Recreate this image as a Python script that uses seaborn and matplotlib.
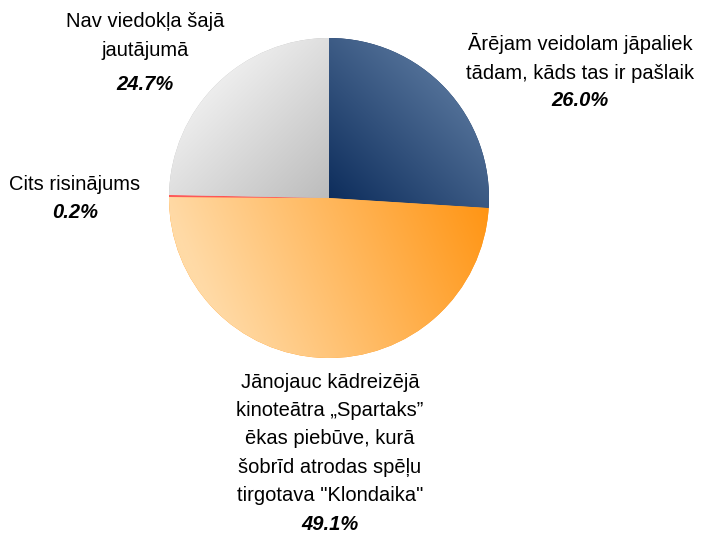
import numpy as np
import matplotlib
matplotlib.use("Agg")
import matplotlib.pyplot as plt
import seaborn as sns
from matplotlib.colors import to_rgb

# chart data
categories = [
    "Ārējam veidolam jāpaliek\ntādam, kāds tas ir pašlaik",
    "Jānojauc kādreizējā\nkinoteātra „Spartaks”\nēkas piebūve, kurā\nšobrīd atrodas spēļu\ntirgotava \"Klondaika\"",
    "Cits risinājums",
    "Nav viedokļa šajā\njautājumā",
]
shares = [26.0, 49.1, 0.2, 24.7]

# gradient per slice: (start point, start colour, end point, end colour)
gradients = [
    ((0.0, 0.0), "#0d2d5c", (0.75, 0.75), "#55739a"),
    ((1.0, 0.0), "#ff9412", (-0.7, -0.75), "#ffdaa6"),
    ((0.0, 0.0), "#ff4d4d", (-1.0, 0.0), "#ff5a5a"),
    ((0.0, 0.0), "#bcbcbc", (-0.75, 0.75), "#f0f0f0"),
]

# label positions in pixels (centre of text block)
label_px = [(580, 58), (330, 439), (75, 185), (145, 36)]
pct_px = [(580, 100), (330, 525), (75, 213), (145, 84)]

sns.set_theme(style="white")
plt.rcParams["font.family"] = ["Liberation Sans", "DejaVu Sans"]

W, H = 703, 536
fig = plt.figure(figsize=(W / 100, H / 100), dpi=100)
cx, cy, r = 329, 198, 160
ax = fig.add_axes([(cx - r) / W, (H - cy - r) / H, 2 * r / W, 2 * r / H])
ax.axis("off")

wedges, _ = ax.pie(shares, startangle=90, counterclock=False, radius=1,
                   colors=[g[1] for g in gradients],
                   wedgeprops=dict(linewidth=0))
ax.set_xlim(-1, 1)
ax.set_ylim(-1, 1)

n = 400
xs = np.linspace(-1, 1, n)
X, Y = np.meshgrid(xs, xs[::-1])
for w, (p1, c1, p2, c2) in zip(wedges, gradients):
    d = np.array(p2) - np.array(p1)
    t = ((X - p1[0]) * d[0] + (Y - p1[1]) * d[1]) / (d @ d)
    t = np.clip(t, 0, 1)[..., None]
    img = (1 - t) * np.array(to_rgb(c1)) + t * np.array(to_rgb(c2))
    im = ax.imshow(img, extent=(-1, 1, -1, 1), interpolation="bilinear", zorder=2)
    im.set_clip_path(w)

for lab, pct, (lx, ly), (px, py) in zip(categories, shares, label_px, pct_px):
    fig.text(lx / W, 1 - ly / H, lab, ha="center", va="center",
             fontsize=14.5, linespacing=1.62, color="#000000")
    fig.text(px / W, 1 - py / H, f"{pct:.1f}%", ha="center", va="center",
             fontsize=14.5, fontweight="bold", fontstyle="italic", color="#000000")

fig.savefig("out.png", dpi=100)
